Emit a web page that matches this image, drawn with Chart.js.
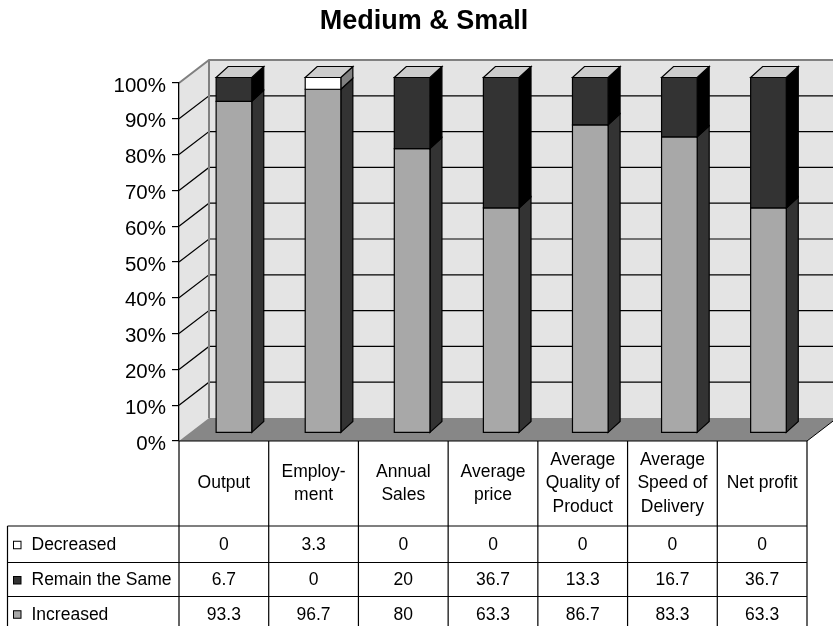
<!DOCTYPE html>
<html>
<head>
<meta charset="utf-8">
<script src="https://cdn.jsdelivr.net/npm/chart.js@4.4.0/dist/chart.umd.min.js"></script>
<style>
  html, body { margin: 0; padding: 0; background: #fff; }
  canvas { display: block; }
</style>
</head>
<body>
<canvas id="chart" width="833" height="626"></canvas>
<script>
// ---- data ----
const categories = [
  ["Output"],
  ["Employ-", "ment"],
  ["Annual", "Sales"],
  ["Average", "price"],
  ["Average", "Quality of", "Product"],
  ["Average", "Speed of", "Delivery"],
  ["Net profit"]
];
const increased  = [93.3, 96.7, 80, 63.3, 86.7, 83.3, 63.3];
const remainSame = [6.7, 0, 20, 36.7, 13.3, 16.7, 36.7];
const decreased  = [0, 3.3, 0, 0, 0, 0, 0];
const seriesNames = ["Increased", "Remain the Same", "Decreased"];
const yTickStep = 10;
const yMax = 100;

// ---- styling ----
const FONT = '"Liberation Sans", Arial, Helvetica, sans-serif';
const WALL = '#e4e4e4';
const FLOOR = '#878787';
const EDGE_GRAY = '#808080';
const FRONT = ['#a8a8a8', '#333333', '#ffffff'];
const SIDE  = ['#333333', '#000000', '#808080'];
const TOP_FACE = '#cccccc';
const DEPTH = { dx: 30, dy: -23 };          // wall depth
const BAR_PLANE = { ox: 10.4, oy: -8, k: 0.993 }; // bar front plane inside the box
const BAR_DEPTH = { dx: 12, dy: -11 };      // depth of each column
const TABLE = {
  headerBottom: 526,
  rowLines: [526, 562.5, 596.5, 631],
  left: 7.5,
  lineH: 23.5,
  font: '17.5px ' + FONT
};

function mapX(a, x) { return a.left + BAR_PLANE.ox + (x - a.left) * BAR_PLANE.k; }
function mapY(a, y) { return a.bottom + BAR_PLANE.oy - (a.bottom - y) * BAR_PLANE.k; }

function poly(ctx, pts, fill) {
  ctx.beginPath();
  ctx.moveTo(pts[0][0], pts[0][1]);
  for (let i = 1; i < pts.length; i++) ctx.lineTo(pts[i][0], pts[i][1]);
  ctx.closePath();
  ctx.fillStyle = fill;
  ctx.fill();
  ctx.stroke();
}

// walls, floor and gridlines behind the columns
const boxPlugin = {
  id: 'box3d',
  beforeDraw(chart) {
    const { ctx, chartArea: a, scales: { y } } = chart;
    const W = chart.width;
    const { dx, dy } = DEPTH;
    ctx.save();
    ctx.fillStyle = WALL;
    ctx.fillRect(a.left + dx, a.top + dy, W - (a.left + dx) + 2, a.bottom - a.top);
    ctx.beginPath();
    ctx.moveTo(a.left, a.top);
    ctx.lineTo(a.left + dx, a.top + dy);
    ctx.lineTo(a.left + dx, a.bottom + dy);
    ctx.lineTo(a.left, a.bottom);
    ctx.closePath();
    ctx.fill();
    // floor
    ctx.fillStyle = FLOOR;
    ctx.beginPath();
    ctx.moveTo(a.left, a.bottom);
    ctx.lineTo(a.left + dx, a.bottom + dy);
    ctx.lineTo(a.right + dx, a.bottom + dy);
    ctx.lineTo(a.right, a.bottom);
    ctx.closePath();
    ctx.fill();
    ctx.strokeStyle = '#000';
    ctx.lineWidth = 1;
    ctx.beginPath();
    ctx.moveTo(a.right, a.bottom);
    ctx.lineTo(a.right + dx, a.bottom + dy);
    ctx.stroke();
    // gridlines
    y.ticks.forEach(t => {
      if (t.value <= 0 || t.value >= yMax) return;
      const py = y.getPixelForValue(t.value);
      ctx.strokeStyle = '#000';
      ctx.lineWidth = 1.2;
      ctx.beginPath();
      ctx.moveTo(a.left, py);
      ctx.lineTo(a.left + dx, py + dy);
      ctx.lineTo(W + 2, py + dy);
      ctx.stroke();
    });
    // outer edges of the walls
    const pTop = y.getPixelForValue(yMax);
    ctx.strokeStyle = EDGE_GRAY;
    ctx.lineWidth = 2;
    ctx.beginPath();
    ctx.moveTo(a.left, pTop);
    ctx.lineTo(a.left + dx, pTop + dy);
    ctx.lineTo(W + 2, pTop + dy);
    ctx.moveTo(a.left + dx, pTop + dy);
    ctx.lineTo(a.left + dx, a.bottom + dy);
    ctx.stroke();
    ctx.restore();
  },
  afterDatasetsDraw(chart) {
    const { ctx, chartArea: a } = chart;
    const metas = chart.data.datasets.map((_, i) => chart.getDatasetMeta(i));
    ctx.save();
    ctx.strokeStyle = '#000';
    ctx.lineWidth = 1.2;
    ctx.lineJoin = 'miter';
    const { dx, dy } = BAR_DEPTH;
    for (let j = 0; j < categories.length; j++) {
      let topY = null, x1 = 0, x2 = 0, topIdx = 0;
      metas.forEach((m, i) => {
        const el = m.data[j];
        const props = el.getProps(['x', 'y', 'base', 'width'], true);
        if (Math.abs(props.base - props.y) < 0.01) return;
        x1 = mapX(a, props.x - props.width / 2);
        x2 = mapX(a, props.x + props.width / 2);
        const yb = mapY(a, props.base);
        const yt = mapY(a, props.y);
        poly(ctx, [[x2, yb], [x2 + dx, yb + dy], [x2 + dx, yt + dy], [x2, yt]], SIDE[i]);
        poly(ctx, [[x1, yb], [x2, yb], [x2, yt], [x1, yt]], FRONT[i]);
        if (topY === null || yt < topY) { topY = yt; topIdx = i; }
      });
      if (topY !== null) {
        poly(ctx, [[x1, topY], [x1 + dx, topY + dy], [x2 + dx, topY + dy], [x2, topY]], TOP_FACE);
      }
    }
    ctx.restore();
  },
  afterDraw(chart) {
    const { ctx, chartArea: a, scales: { x } } = chart;
    const n = categories.length;
    const colW = (a.right - a.left) / n;
    ctx.save();
    ctx.strokeStyle = '#000';
    ctx.lineWidth = 1.2;
    ctx.beginPath();
    ctx.moveTo(a.left, a.bottom);
    ctx.lineTo(a.right, a.bottom);
    for (let i = 0; i <= n; i++) {
      const px = a.left + i * colW;
      ctx.moveTo(px, a.bottom);
      ctx.lineTo(px, chart.height + 2);
    }
    TABLE.rowLines.slice(0, 3).forEach(ry => {
      ctx.moveTo(TABLE.left, ry);
      ctx.lineTo(a.right, ry);
    });
    ctx.moveTo(TABLE.left, TABLE.rowLines[0]);
    ctx.lineTo(TABLE.left, chart.height + 2);
    ctx.stroke();

    ctx.fillStyle = '#000';
    ctx.font = TABLE.font;
    ctx.textAlign = 'center';
    ctx.textBaseline = 'middle';
    const hc = (a.bottom + TABLE.headerBottom) / 2;
    categories.forEach((lines, j) => {
      const cx = x.getPixelForValue(j);
      const y0 = hc - (lines.length - 1) * TABLE.lineH / 2;
      lines.forEach((ln, k) => ctx.fillText(ln, cx, y0 + k * TABLE.lineH));
    });

    const rows = [
      { name: seriesNames[2], values: decreased, color: FRONT[2] },
      { name: seriesNames[1], values: remainSame, color: FRONT[1] },
      { name: seriesNames[0], values: increased, color: FRONT[0] }
    ];
    rows.forEach((r, ri) => {
      const cy = (TABLE.rowLines[ri] + TABLE.rowLines[ri + 1]) / 2 + 1;
      ctx.fillStyle = r.color;
      ctx.fillRect(13.5, cy - 4, 7.5, 7.5);
      ctx.lineWidth = 1;
      ctx.strokeRect(13.5, cy - 4, 7.5, 7.5);
      ctx.fillStyle = '#000';
      ctx.textAlign = 'left';
      ctx.fillText(r.name, 31.5, cy);
      ctx.textAlign = 'center';
      r.values.forEach((v, j) => ctx.fillText(String(v), x.getPixelForValue(j), cy));
    });
    ctx.restore();
  }
};

const hidden = 'rgba(0,0,0,0)';
new Chart(document.getElementById('chart'), {
  type: 'bar',
  data: {
    labels: categories,
    datasets: [
      { label: seriesNames[0], data: increased, backgroundColor: hidden },
      { label: seriesNames[1], data: remainSame, backgroundColor: hidden },
      { label: seriesNames[2], data: decreased, backgroundColor: hidden }
    ]
  },
  options: {
    responsive: false,
    animation: false,
    events: [],
    barPercentage: 0.4,
    categoryPercentage: 1,
    layout: { padding: { left: 41, right: 26, top: 0, bottom: 185 } },
    plugins: {
      legend: { display: false },
      tooltip: { enabled: false },
      title: {
        display: true,
        text: 'Medium & Small',
        color: '#000',
        font: { family: FONT, size: 27, weight: 'bold' },
        padding: { top: 5, bottom: 45.6 }
      }
    },
    scales: {
      x: { stacked: true, display: false },
      y: {
        stacked: true,
        min: 0,
        max: yMax,
        afterFit(scale) { scale.width = 138; },
        ticks: {
          stepSize: yTickStep,
          color: '#000',
          padding: 6,
          labelOffset: 3,
          font: { family: FONT, size: 20.5 },
          callback: v => v + '%'
        },
        grid: { drawOnChartArea: false, drawTicks: true, tickLength: 7, color: '#000', lineWidth: 1.2 },
        border: { display: true, color: '#000', width: 1.3 }
      }
    }
  },
  plugins: [boxPlugin]
});
</script>
</body>
</html>
